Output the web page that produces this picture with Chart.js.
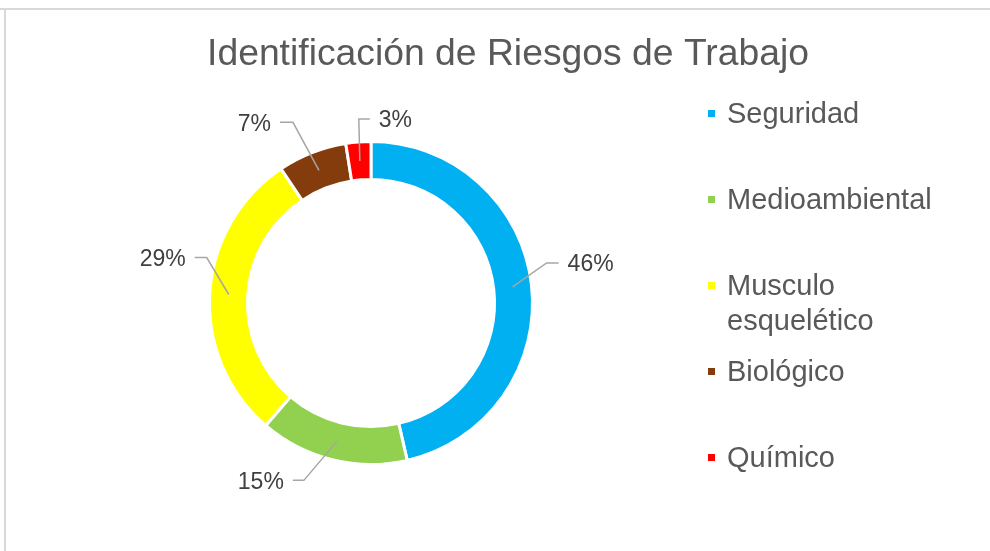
<!DOCTYPE html>
<html>
<head>
<meta charset="utf-8">
<script src="https://cdn.jsdelivr.net/npm/chart.js@4"></script>
<style>
  html, body { margin: 0; padding: 0; background: #fff; }
  #wrap { width: 990px; height: 551px; position: relative; }
</style>
</head>
<body>
<div id="wrap"><canvas id="riesgosChart" width="990" height="551"></canvas></div>
<script>
const chartTitle = "Identificación de Riesgos de Trabajo";
const categories = ["Seguridad", "Medioambiental", ["Musculo", "esquelético"], "Biológico", "Químico"];
const values = [46.4, 14.9, 29.3, 6.9, 2.5];
const colors = ["#00b0f0", "#92d050", "#ffff00", "#843c0c", "#ff0000"];

const FONT = "'Liberation Sans', Arial, sans-serif";

// where each percent label sits, relative to the middle of its slice
const labelPlacement = [
  { dx: 34, dy: -24, run: 12 },   // Seguridad
  { dx: -33, dy: 39, run: -11 },  // Medioambiental
  { dx: -22, dy: -37, run: -12 }, // Musculo esquelético
  { dx: -26, dy: -48, run: -13 }, // Biológico
  { dx: -1, dy: -42, run: 11 }    // Químico
];

const decorPlugin = {
  id: "decor",
  beforeDraw(chart) {
    const ctx = chart.ctx;
    ctx.save();
    ctx.fillStyle = "#fff";
    ctx.fillRect(0, 0, chart.width, chart.height);
    // frame (top + left only visible)
    ctx.strokeStyle = "#d9d9d9";
    ctx.lineWidth = 2;
    ctx.beginPath();
    ctx.moveTo(0, 9);
    ctx.lineTo(chart.width, 9);
    ctx.moveTo(5, 9);
    ctx.lineTo(5, chart.height);
    ctx.stroke();
    // title
    ctx.fillStyle = "#595959";
    ctx.font = "37.3px " + FONT;
    ctx.textAlign = "center";
    ctx.textBaseline = "middle";
    ctx.fillText(chartTitle, 508, 55);
    ctx.restore();
  },
  afterDraw(chart) {
    const ctx = chart.ctx;
    const meta = chart.getDatasetMeta(0);
    const data = chart.data.datasets[0].data;
    const total = data.reduce((a, b) => a + b, 0);

    ctx.save();
    // percent labels with leader lines
    ctx.font = "23px " + FONT;
    ctx.textBaseline = "middle";
    meta.data.forEach((arc, i) => {
      const p = arc.getProps(["x", "y", "startAngle", "endAngle", "innerRadius", "outerRadius"], true);
      const mid = (p.startAngle + p.endAngle) / 2;
      const r = (p.innerRadius + p.outerRadius) / 2;
      const ax = p.x + Math.cos(mid) * r;
      const ay = p.y + Math.sin(mid) * r;
      const pl = labelPlacement[i];
      const ex = ax + pl.dx, ey = ay + pl.dy;
      const hx = ex + pl.run;
      ctx.strokeStyle = "#a6a6a6";
      ctx.lineWidth = 1.5;
      ctx.beginPath();
      ctx.moveTo(ax, ay);
      ctx.lineTo(ex, ey);
      ctx.lineTo(hx, ey);
      ctx.stroke();
      const txt = Math.round(data[i] / total * 100) + "%";
      ctx.fillStyle = "#404040";
      if (pl.run > 0) {
        ctx.textAlign = "left";
        ctx.fillText(txt, hx + 9, ey + 2);
      } else {
        ctx.textAlign = "right";
        ctx.fillText(txt, hx - 9, ey + 2);
      }
    });

    // legend
    ctx.font = "29px " + FONT;
    ctx.textAlign = "left";
    chart.data.labels.forEach((lab, i) => {
      const y = 113 + i * 86;
      ctx.fillStyle = colors[i];
      ctx.fillRect(708, y - 3, 7, 7);
      ctx.fillStyle = "#595959";
      const lines = Array.isArray(lab) ? lab : [lab];
      lines.forEach((ln, k) => ctx.fillText(ln, 727, y + 2 + k * 35));
    });
    ctx.restore();
  }
};

new Chart(document.getElementById("riesgosChart"), {
  type: "doughnut",
  data: {
    labels: categories,
    datasets: [{
      data: values,
      backgroundColor: colors,
      borderColor: "#ffffff",
      borderWidth: 3
    }]
  },
  options: {
    responsive: false,
    animation: false,
    cutout: "76.5%",
    layout: { padding: { left: 208, right: 456, top: 140, bottom: 85 } },
    plugins: {
      legend: { display: false },
      title: { display: false },
      tooltip: { enabled: false }
    }
  },
  plugins: [decorPlugin]
});
</script>
</body>
</html>
